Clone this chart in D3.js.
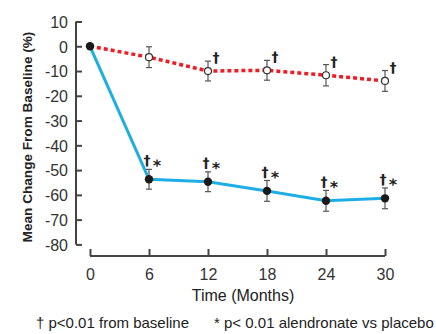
<!DOCTYPE html>
<html>
<head>
<meta charset="utf-8">
<script src="https://cdn.jsdelivr.net/npm/d3@7"></script>
<style>
  body { margin: 0; background: #fff; }
  text { font-family: "Liberation Sans", Arial, sans-serif; }
</style>
</head>
<body>
<svg id="chart" width="436" height="334"></svg>
<script>
// values
var months = [0, 6, 12, 18, 24, 30];
var alendronate = [0, -53.7, -54.7, -58.4, -62.4, -61.4];
var alendronateErr = [0, 4, 4, 4.2, 4.2, 4.2];
var placebo = [0, -4.4, -10.0, -9.7, -11.7, -14.0];
var placeboErr = [0, 4.2, 4, 4, 4.3, 4.2];
var alendronateMarks = [false, true, true, true, true, true];
var placeboMarks = [false, false, true, true, true, true];
var yTicks = [10, 0, -10, -20, -30, -40, -50, -60, -70, -80];

var svg = d3.select("#chart");

var x = d3.scaleLinear().domain([0, 30]).range([90, 385]);
var y = d3.scaleLinear().domain([-80, 10]).range([244.4, 21.5]);

var axisColor = "#444";

// y axis, ticks point inward
var yAxis = svg.append("g")
    .attr("transform", "translate(76,0)")
    .call(d3.axisRight(y).tickValues(yTicks).tickSize(6).tickFormat(d => d < 0 ? "-" + Math.abs(d) : d));
yAxis.select(".domain").attr("d", "M0," + y(10) + "V" + y(-80)).style("stroke", axisColor).style("stroke-width", 2);
yAxis.selectAll(".tick line").style("stroke", axisColor).style("stroke-width", 2);
yAxis.selectAll(".tick text")
    .attr("x", -8)
    .attr("dy", "0.36em")
    .attr("text-anchor", "end")
    .style("font-size", "16px")
    .style("fill", "#333");

// x axis, separate line below
var xAxis = svg.append("g")
    .attr("transform", "translate(0,256)")
    .call(d3.axisTop(x).tickValues(months).tickSize(7));
xAxis.select(".domain").attr("d", "M" + x(0) + ",0H" + x(30)).style("stroke", axisColor).style("stroke-width", 2);
xAxis.selectAll(".tick line").style("stroke", axisColor).style("stroke-width", 2);
xAxis.selectAll(".tick text")
    .attr("y", 24)
    .attr("dy", 0)
    .style("font-size", "16px")
    .style("fill", "#333");

// axis titles
svg.append("text")
    .attr("transform", "translate(32,137) rotate(-90)")
    .attr("text-anchor", "middle")
    .style("font-size", "13.6px")
    .style("font-weight", "bold")
    .style("fill", "#222")
    .text("Mean Change From Baseline (%)");

svg.append("text")
    .attr("x", 243)
    .attr("y", 301)
    .attr("text-anchor", "middle")
    .style("font-size", "16px")
    .style("fill", "#222")
    .text("Time (Months)");

var line = d3.line().x((d, i) => x(months[i])).y(d => y(d));

// placebo (dotted red)
svg.append("path")
    .datum(placebo)
    .attr("d", line)
    .style("fill", "none")
    .style("stroke", "#ee1c25")
    .style("stroke-width", 3.5)
    .style("stroke-dasharray", "4,3");

// alendronate (solid blue)
svg.append("path")
    .datum(alendronate)
    .attr("d", line)
    .style("fill", "none")
    .style("stroke", "#1eaee6")
    .style("stroke-width", 3);

function errorBars(values, errs) {
    var g = svg.append("g");
    values.forEach(function(v, i) {
        if (!errs[i]) return;
        var cx = x(months[i]);
        var y1 = y(v + errs[i]), y2 = y(v - errs[i]);
        g.append("line").attr("x1", cx).attr("x2", cx).attr("y1", y1).attr("y2", y2);
        g.append("line").attr("x1", cx - 3).attr("x2", cx + 3).attr("y1", y1).attr("y2", y1);
        g.append("line").attr("x1", cx - 3).attr("x2", cx + 3).attr("y1", y2).attr("y2", y2);
    });
    g.selectAll("line").style("stroke", "#555").style("stroke-width", 1.2);
}
errorBars(placebo, placeboErr);
errorBars(alendronate, alendronateErr);

// markers
svg.selectAll(".pl")
    .data(placebo.slice(1))
    .enter()
    .append("circle")
    .attr("cx", (d, i) => x(months[i + 1]))
    .attr("cy", d => y(d))
    .attr("r", 3.5)
    .style("fill", "#fff")
    .style("stroke", "#333")
    .style("stroke-width", 1.2);

svg.selectAll(".al")
    .data(alendronate)
    .enter()
    .append("circle")
    .attr("cx", (d, i) => x(months[i]))
    .attr("cy", d => y(d))
    .attr("r", 4.2)
    .style("fill", "#1a1a1a");

// significance marks (tiny rotation keeps the glyphs greyscale-antialiased)
function dagger(cx, cy) {
    svg.append("text")
        .attr("transform", "translate(" + cx + "," + cy + ") rotate(0.2)")
        .attr("text-anchor", "middle")
        .style("font-family", "'DejaVu Sans', sans-serif")
        .style("font-size", "14px")
        .style("font-weight", "bold")
        .style("fill", "#222")
        .text("\u2020");
}
function star(cx, cy) {
    svg.append("text")
        .attr("transform", "translate(" + cx + "," + cy + ") rotate(0.2)")
        .attr("text-anchor", "middle")
        .style("font-family", "'DejaVu Sans', sans-serif")
        .style("font-size", "16px")
        .style("font-weight", "bold")
        .style("fill", "#222")
        .text("*");
}

placebo.forEach(function(v, i) {
    if (placeboMarks[i]) dagger(x(months[i]) + 8, y(v) - 8.5);
});

alendronate.forEach(function(v, i) {
    if (!alendronateMarks[i]) return;
    dagger(x(months[i]) - 2, y(v) - 14);
    star(x(months[i]) + 8, y(v) - 8);
});

// footnotes
svg.append("text")
    .attr("x", 36)
    .attr("y", 328)
    .style("font-size", "15px")
    .style("fill", "#222")
    .text("\u2020 p<0.01 from baseline");

svg.append("text")
    .attr("x", 214)
    .attr("y", 328)
    .style("font-size", "15px")
    .style("fill", "#222")
    .text("* p< 0.01 alendronate vs placebo");
</script>
</body>
</html>
